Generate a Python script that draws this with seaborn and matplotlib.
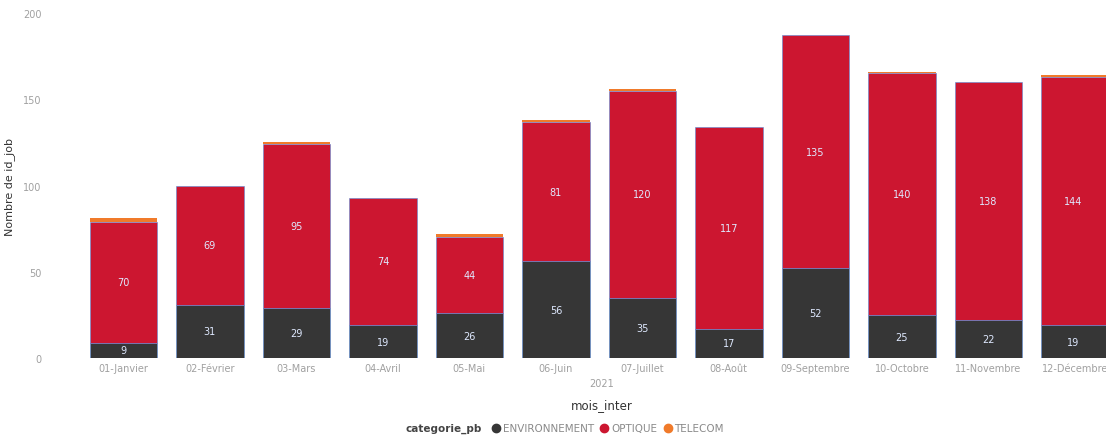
import pandas as pd
import seaborn as sns
import matplotlib.pyplot as plt
from matplotlib.lines import Line2D

# Values
mois = ["01-Janvier", "02-Février", "03-Mars", "04-Avril", "05-Mai", "06-Juin",
        "07-Juillet", "08-Août", "09-Septembre", "10-Octobre", "11-Novembre", "12-Décembre"]
environnement = [9, 31, 29, 19, 26, 56, 35, 17, 52, 25, 22, 19]
optique = [70, 69, 95, 74, 44, 81, 120, 117, 135, 140, 138, 144]
telecom = [2, 0, 1, 0, 2, 1, 1, 0, 0, 1, 0, 1]

categories = ["ENVIRONNEMENT", "OPTIQUE", "TELECOM"]
colors = {"ENVIRONNEMENT": "#363636", "OPTIQUE": "#cc1630", "TELECOM": "#f07a2a"}

df = pd.DataFrame({"mois_inter": mois, "ENVIRONNEMENT": environnement,
                   "OPTIQUE": optique, "TELECOM": telecom})

sns.set_style("white")
fig = plt.figure(figsize=(11.06, 4.39), dpi=100)
ax = fig.add_axes([0.049, 0.182, 0.951, 0.786])

bottom = pd.Series([0] * len(df))
for cat in categories:
    edge = "none" if cat == "TELECOM" else "#5a8ddb"
    sns.barplot(data=df, x="mois_inter", y=cat, color=colors[cat], ax=ax,
                bottom=bottom.values, width=0.78, saturation=1,
                edgecolor=edge, linewidth=0.4)
    bottom = bottom + df[cat]

# data labels for the two main segments
for cont, cat in zip(ax.containers[:2], categories[:2]):
    ax.bar_label(cont, labels=[str(v) for v in df[cat]], label_type="center",
                 color="#dfe9ff", fontsize=7)

ax.set_xlim(-0.8, 11.36)
ax.set_ylim(0, 200)
ax.set_yticks([0, 50, 100, 150, 200])
ax.tick_params(axis="both", length=0, labelsize=7, labelcolor="#a0a0a0")
ax.tick_params(axis="y", pad=9)
ax.set_ylabel("Nombre de id_job", fontsize=8, color="#333333")
ax.yaxis.set_label_coords(-0.037, 0.5)
ax.set_xlabel("")
sns.despine(ax=ax, left=True, bottom=True)

fig.text(0.544, 0.118, "2021", ha="center", fontsize=7, color="#a0a0a0")
fig.text(0.544, 0.068, "mois_inter", ha="center", fontsize=8.5, color="#333333")

# legend at the bottom
fig.text(0.436, 0.022, "categorie_pb", ha="right", va="center", fontsize=7.5,
         fontweight="bold", color="#444444")
handles = [Line2D([], [], marker="o", linestyle="", markersize=6,
                  markerfacecolor=colors[c], markeredgecolor=colors[c]) for c in categories]
leg = fig.legend(handles, categories, loc="center left", bbox_to_anchor=(0.440, 0.022),
                 ncol=3, frameon=False, fontsize=7.5, handletextpad=0.25,
                 columnspacing=0.6, borderpad=0, handlelength=0.8)
for t in leg.get_texts():
    t.set_color("#8a8a8a")

fig.savefig("out.png", dpi=100)
